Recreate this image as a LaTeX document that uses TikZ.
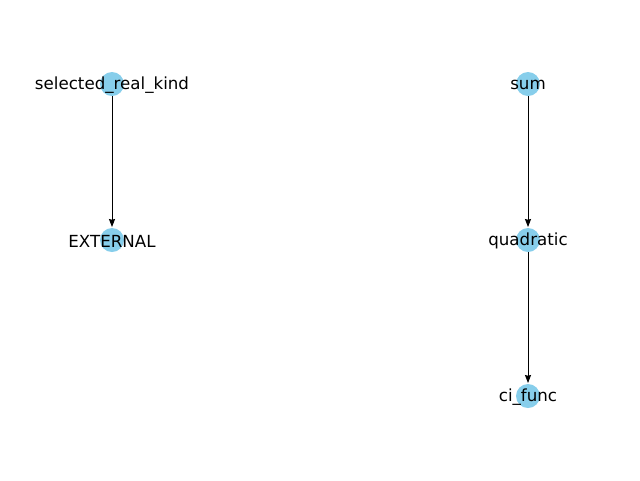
\documentclass[tikz,border=0pt]{standalone}
\usepackage{fontspec}
\setmainfont{DejaVu Sans}
\usetikzlibrary{arrows.meta}
\begin{document}
\begin{tikzpicture}[x=0.75pt,y=-0.75pt,
  dot/.style={circle,fill={rgb,255:red,135;green,206;blue,235},minimum size=18pt,inner sep=0pt},
  lbl/.style={font=\fontsize{12.5}{14}\selectfont,inner sep=0pt,yshift=-1pt},
  edge/.style={-{Stealth[length=6pt,width=4.5pt,inset=0.5pt]},black,line width=0.75pt,shorten >=0.5pt}]
\useasboundingbox (0,0) rectangle (640,480);
\node[dot] (a) at (112,84) {};
\node[dot] (b) at (112,240) {};
\node[dot] (c) at (528,84) {};
\node[dot] (d) at (528,240) {};
\node[dot] (e) at (528,396) {};
\draw[edge] (a) -- (b);
\draw[edge] (c) -- (d);
\draw[edge] (d) -- (e);
\node[lbl] at (a) {selected\_real\_kind};
\node[lbl] at (b) {EXTERNAL};
\node[lbl] at (c) {sum};
\node[lbl] at (d) {quadratic};
\node[lbl] at (e) {ci\_func};
\end{tikzpicture}
\end{document}
